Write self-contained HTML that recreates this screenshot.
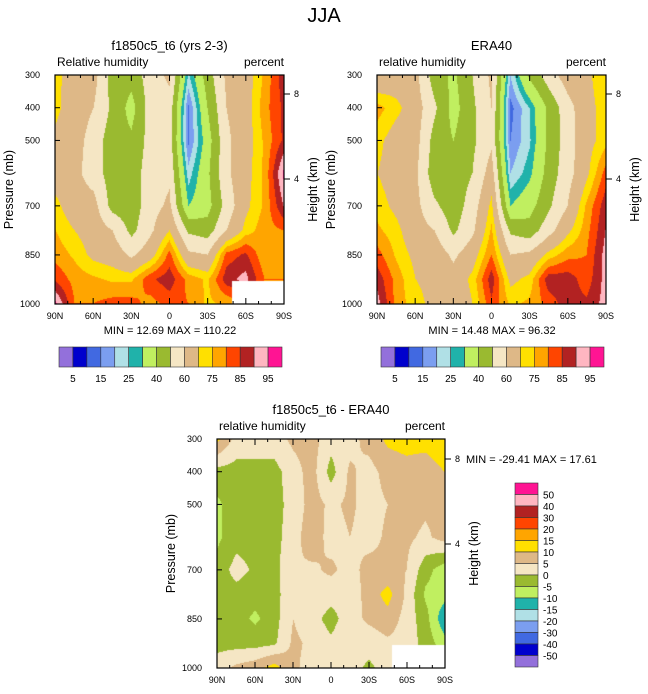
<!DOCTYPE html>
<html><head><meta charset="utf-8">
<style>
body{margin:0;background:#fff;width:648px;height:694px;overflow:hidden;position:relative;font-family:"Liberation Sans",sans-serif}
canvas{position:absolute}
svg{position:absolute;left:0;top:0}
</style></head>
<body>
<canvas id="c1" width="229" height="229" style="left:55px;top:75px"></canvas>
<canvas id="c2" width="229" height="229" style="left:377px;top:75px"></canvas>
<canvas id="c3" width="228" height="229" style="left:217px;top:439px"></canvas>
<svg id="ov" width="648" height="694"></svg>
<script>
// ---- data ----
const lats = ["90N","75N","60N","45N","30N","15N","0","15S","30S","45S","60S","75S","90S"];
const levelsP = [300,400,500,600,700,775,850,925,1000];
const rhModel = [
[72,66,64,45,44,55,62,24,45,62,66,76,88],
[72,65,60,48,36,55,56,14,40,60,66,78,86],
[68,64,56,44,42,54,55,14,35,58,66,76,86],
[66,63,55,45,45,55,58,22,38,58,67,76,96],
[72,65,64,46,44,56,62,30,36,54,68,76,90],
[75,70,66,60,47,58,70,48,45,60,72,78,80],
[78,74,68,66,58,66,82,62,60,82,86,76,78],
[84,78,76,74,74,84,88,78,74,88,92,80,80],
[96,80,80,82,82,78,82,80,74,76,80,80,80]];
const rhEra = [
[62,65,63,45,38,50,62,20,42,55,65,68,75],
[77,72,65,52,36,48,60,13,25,42,56,67,73],
[72,66,64,46,40,48,58,15,24,42,55,67,73],
[70,66,62,44,44,50,65,20,28,44,56,68,82],
[73,68,63,52,44,55,72,30,36,48,60,76,88],
[76,72,64,60,48,58,76,48,44,56,68,78,90],
[82,74,68,66,58,66,80,60,62,72,78,80,92],
[88,78,70,68,64,72,88,68,72,88,88,82,92],
[92,78,72,68,62,70,84,74,76,82,88,86,92]];
const rhDiff = [
[11,3,3,3,6,7,2,3,7,11,12,12,14],
[-2,-2,-2,-2,3,7,-2,6,3,7,8,7,10],
[-6,-2,-2,-2,2,7,4,6,3,5,7,6,7],
[-6,-2,-2,-2,3,8,3,5,3,6,6,4,7],
[-3,2,-1,-2,5,4,6,3,7,6,5,-3,-8],
[-3,-2,-3,-2,4,4,2,2,7,12,4,-6,-8],
[-3,-3,-6,-2,5,2,-2,3,6,8,3,-3,-14],
[-2,-2,-2,-1,6,4,1,4,2,4,3,-2,-8],
[3,6,8,12,6,3,2,2,-1,2,2,2,2]];
const rhLevels = [5,10,15,20,25,30,40,50,60,70,75,80,85,90,95];
const diffLevels = [-50,-40,-30,-20,-15,-10,-5,0,5,10,15,20,30,40,50];
const rhTickLabels = ["5","15","25","40","60","75","85","95"];
const diffTickLabels = ["50","40","30","20","15","10","5","0","-5","-10","-15","-20","-30","-40","-50"];
const palette = ["#9370db","#0000cd","#4169e1","#7b9ef0","#b0e0e6","#20b2aa","#c0ef60","#9aba30","#f5e6c4","#deb887","#ffe000","#ffa500","#ff4500","#b22222","#ffb6c1","#ff1493"];
const pTicks = [300,400,500,700,850,1000];
const latTicks = ["90N","60N","30N","0","30S","60S","90S"];

function colorFor(v,lv){let i=0;while(i<lv.length&&v>=lv[i])i++;return palette[i];}
function hex(c){return [parseInt(c.substr(1,2),16),parseInt(c.substr(3,2),16),parseInt(c.substr(5,2),16)];}
function draw(id,grid,lv,box){
  const cv=document.getElementById(id),ctx=cv.getContext('2d'),W=cv.width,H=cv.height;
  const img=ctx.createImageData(W,H);
  for(let y=0;y<H;y++){
    const p=300+700*y/(H-1);
    let r=0;while(r<levelsP.length-2&&p>levelsP[r+1])r++;
    const ty=(p-levelsP[r])/(levelsP[r+1]-levelsP[r]);
    for(let x=0;x<W;x++){
      const fx=x/(W-1)*(lats.length-1);let c=Math.min(Math.floor(fx),lats.length-2);const tx=fx-c;
      const v=(grid[r][c]*(1-tx)+grid[r][c+1]*tx)*(1-ty)+(grid[r+1][c]*(1-tx)+grid[r+1][c+1]*tx)*ty;
      let col=hex(colorFor(v,lv));
      if(box&&x>=box[0]&&y>=box[1])col=[255,255,255];
      const k=(y*W+x)*4;img.data[k]=col[0];img.data[k+1]=col[1];img.data[k+2]=col[2];img.data[k+3]=255;
    }
  }
  ctx.putImageData(img,0,0);
}
draw('c1',rhModel,rhLevels,[177,206]);
draw('c2',rhEra,rhLevels,null);
draw('c3',rhDiff,diffLevels,[175,206]);

const svg=document.getElementById('ov'),NS="http://www.w3.org/2000/svg";
function el(tag,attrs,txt){const e=document.createElementNS(NS,tag);for(const k in attrs)e.setAttribute(k,attrs[k]);if(txt!==undefined)e.textContent=txt;svg.appendChild(e);return e;}
function txt(x,y,s,size,anchor,name,rot){const t=el('text',{x:x,y:y,'font-size':size,'text-anchor':anchor||'middle',fill:'#000'},s);
  
  
  if(rot)t.setAttribute('transform','rotate(-90 '+x+' '+y+')');return t;}

txt(324,22,"JJA",20,'middle','main-title');
function axes(x0,y0,w,h,title,left,h8,h4,minmax,mmx,mmy,pre){
  const fr=el('rect',{x:x0,y:y0,width:w,height:h,fill:'none',stroke:'#000','stroke-width':1.2});
  
  
  txt(x0+w/2,y0-25,title,13,'middle',pre+'-title');
  txt(x0+2,y0-9,left,12,'start',pre+'-variable-label');
  txt(x0+w,y0-9,"percent",12,'end',pre+'-units-label');
  for(let d=0;d<=180;d+=10){const x=x0+d/180*w,L=d%30==0?6:3;
    el('line',{x1:x,y1:y0,x2:x,y2:y0+L,stroke:'#000'});el('line',{x1:x,y1:y0+h,x2:x,y2:y0+h-L,stroke:'#000'});}
  latTicks.forEach((s,i)=>{txt(x0+i*w/6,y0+h+15,s,9,'middle',pre+'-x-tick-label');});
  pTicks.forEach(p=>{const y=y0+(p-300)/700*h;el('line',{x1:x0,y1:y,x2:x0+5,y2:y,stroke:'#000'});
    txt(x0-15,y+3,String(p),9,'end',pre+'-y-tick-label');});
  txt(x0-42,y0+h/2,"Pressure (mb)",12.5,'middle',pre+'-y-axis-title',true);
  [[h8,"8"],[h4,"4"]].forEach(a=>{el('line',{x1:x0+w,y1:a[0],x2:x0+w+6,y2:a[0],stroke:'#000'});txt(x0+w+10,a[0]+3,a[1],9,'start',pre+'-height-tick-label');});
  txt(x0+w+33,y0+h/2,"Height (km)",12.5,'middle',pre+'-y2-axis-title',true);
  if(minmax)txt(mmx,mmy,minmax,11,'middle',pre+'-min-max');
}
axes(55,75,229,229,"f1850c5_t6 (yrs 2-3)","Relative humidity",94,179,"MIN =  12.69  MAX = 110.22",170,334,'model');
axes(377,75,229,229,"ERA40","relative humidity",94,179,"MIN =  14.48  MAX =  96.32",492,334,'era40');
axes(217,439,228,229,"f1850c5_t6 - ERA40","relative humidity",459,544,null,0,0,'diff');
txt(466,463,"MIN = -29.41   MAX =  17.61",11,'start','diff-min-max');

function hbar(x0,pre){const bw=223/16;
  palette.forEach((c,i)=>{const r=el('rect',{x:x0+i*bw,y:347,width:bw,height:20,fill:c,stroke:'#333','stroke-width':0.6});
    
    });
  rhTickLabels.forEach((s,i)=>{txt(x0+(2*i+1)*bw,382,s,10,'middle',pre+'-colorbar-label');});
}
hbar(59,'model');hbar(381,'era40');
const bh=184/16;
palette.slice().reverse().forEach((c,i)=>{const r=el('rect',{x:515,y:483+i*bh,width:23,height:bh,fill:c,stroke:'#333','stroke-width':0.6});
  
  });
diffTickLabels.forEach((s,i)=>{txt(543,483+(i+1)*bh+4,s,10,'start','diff-colorbar-label');});
</script>
</body></html>
